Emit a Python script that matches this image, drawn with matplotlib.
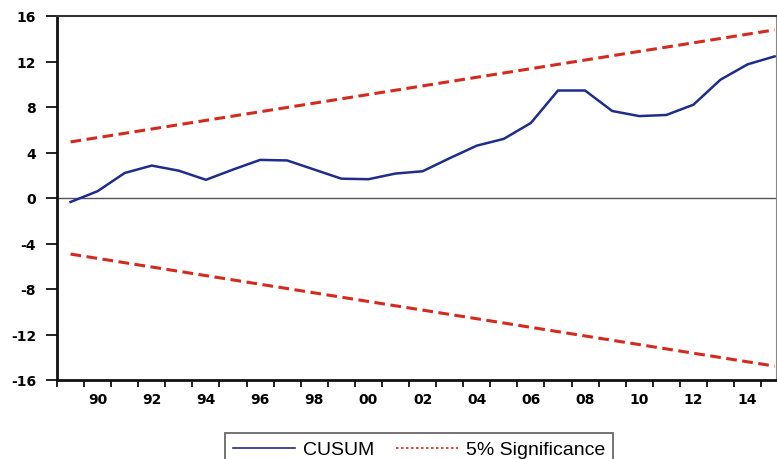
import matplotlib
matplotlib.use('Agg')
import matplotlib.pyplot as plt
from matplotlib.lines import Line2D
import numpy as np

NAVY = '#1f2d8a'
RED = '#d42a1e'
GREY = '#555555'

# CUSUM statistic, 1989-2015
years = list(range(1989, 2016))
cusum = [-0.35, 0.6, 2.2, 2.85, 2.4, 1.6, 2.5, 3.35, 3.3, 2.5, 1.7, 1.65,
         2.15, 2.35, 3.5, 4.6, 5.2, 6.6, 9.45, 9.45, 7.65, 7.2, 7.3, 8.2,
         10.4, 11.75, 12.45]

# 5% significance bounds (straight lines, endpoints)
bound_years = [1989, 2015]
upper = [4.93, 14.78]
lower = [-4.93, -14.78]

year_labels = list(range(1990, 2016, 2))
ytick_vals = [-16, -12, -8, -4, 0, 4, 8, 12, 16]

fig = plt.figure(figsize=(7.77, 4.6), dpi=100)
ax = fig.add_axes([57/777, 1 - 381/460, (776 - 57)/777, (381 - 17)/460])

ax.axhline(0, color=GREY, lw=1.0, zorder=1)
ax.plot(years, cusum, color=NAVY, lw=1.8, zorder=3)
ax.plot(bound_years, upper, color=RED, lw=2.2, dashes=(3.5, 1.8), zorder=2)
ax.plot(bound_years, lower, color=RED, lw=2.2, dashes=(3.5, 1.8), zorder=2)

ax.set_xlim(1988.52, 2015.05)
ax.set_ylim(-16, 16)

# ticks at year boundaries, labels centred in the year
ax.set_xticks(np.arange(1988.5, 2015, 1.0))
ax.set_xticklabels([])
ax.set_xticks(year_labels, minor=True)
ax.set_xticklabels(['%02d' % (y % 100) for y in year_labels], minor=True,
                   fontsize=10, fontweight='bold', family='DejaVu Sans')
ax.tick_params(axis='x', which='major', direction='out', length=5, width=1.4, color='#222222')
ax.tick_params(axis='x', which='minor', length=0, pad=9)

ax.set_yticks(ytick_vals)
ax.set_yticklabels([str(v) for v in ytick_vals], fontsize=10, fontweight='bold',
                   family='DejaVu Sans')
ax.tick_params(axis='y', direction='out', length=8, width=1.4, pad=7, color='#222222')

for s in ['left', 'bottom']:
    ax.spines[s].set_linewidth(2.0)
    ax.spines[s].set_color('#111111')
ax.spines['top'].set_linewidth(1.5)
ax.spines['top'].set_color('#333333')
ax.spines['right'].set_linewidth(0.8)
ax.spines['right'].set_color('#888888')

handles = [Line2D([], [], color=NAVY, lw=1.2),
           Line2D([], [], color=RED, lw=1.2, linestyle=(0, (1.5, 1.5)))]
leg = fig.legend(handles, ['CUSUM', '5% Significance'], loc='upper center',
                 bbox_to_anchor=(419/777, 1 - 434/460), ncol=2, frameon=True,
                 fancybox=False, edgecolor='#444444', handlelength=3.2,
                 handletextpad=0.4, columnspacing=1.1, borderpad=0.4,
                 borderaxespad=0.0,
                 prop={'family': 'Liberation Sans', 'size': 14})
leg.get_frame().set_linewidth(1.3)

fig.savefig('out.png', dpi=100)
